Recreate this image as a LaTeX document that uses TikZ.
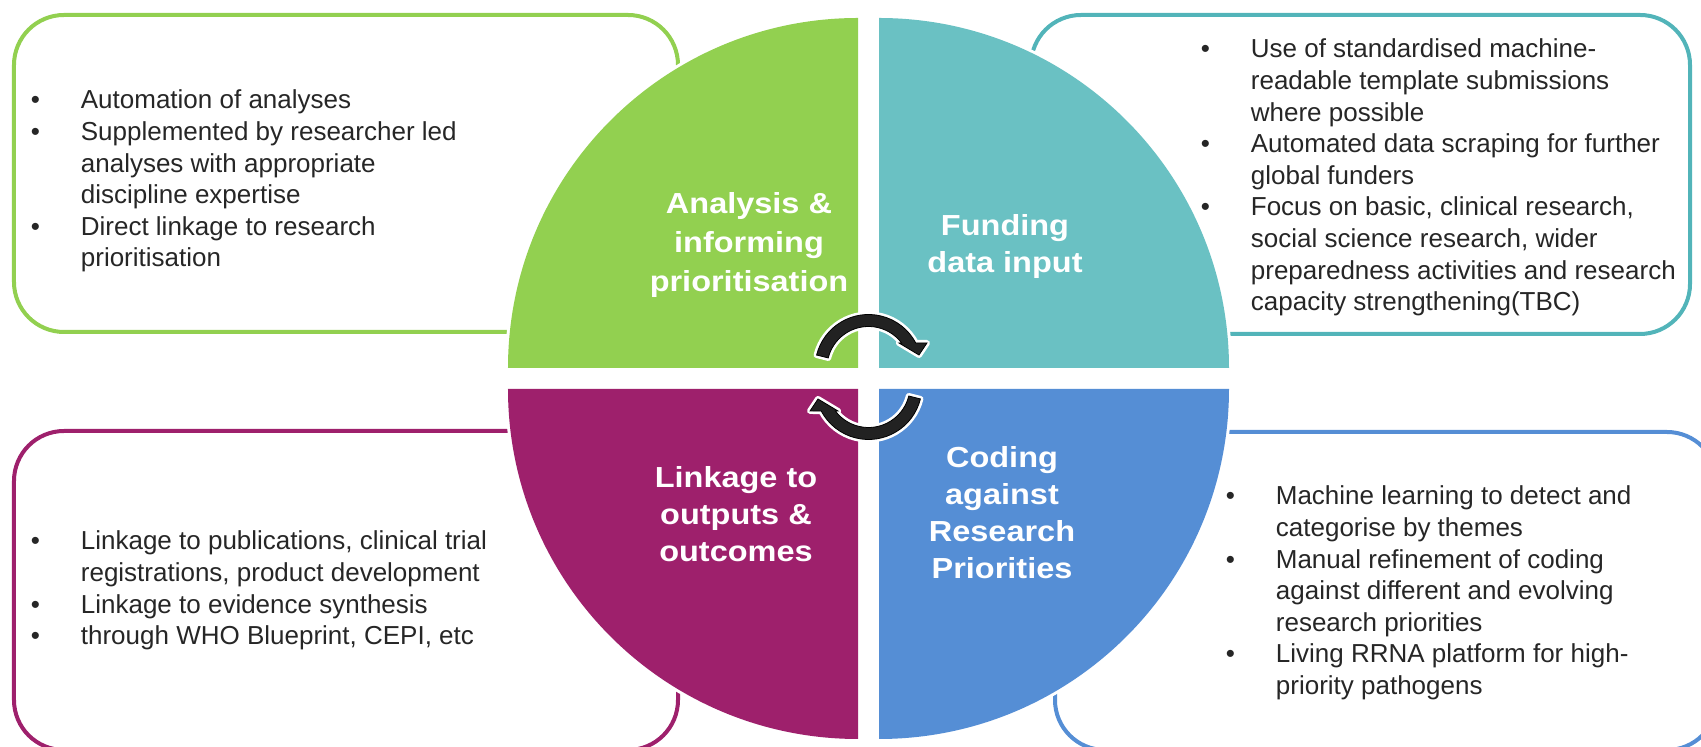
\documentclass[tikz,border=0pt]{standalone}
\usepackage{fontspec}
\setmainfont{Liberation Sans}
\newfontfamily\widesans{Liberation Sans}[FakeStretch=1.12]
\definecolor{qgreen}{RGB}{146,208,80}
\definecolor{qteal}{RGB}{106,193,195}
\definecolor{qtealline}{RGB}{82,180,185}
\definecolor{qpurple}{RGB}{158,32,108}
\definecolor{qblue}{RGB}{85,142,213}
\definecolor{txtgray}{RGB}{38,38,38}
\definecolor{arrowblack}{RGB}{34,34,34}
\begin{document}
\begin{tikzpicture}[x=0.5pt,y=0.5pt,
	boxframe/.style={line width=2pt, rounded corners=25pt},
	quarter/.style={preaction={draw=white, line width=3pt}},
	quartertitle/.style={text=white, align=center, inner sep=0pt,
		font=\widesans\bfseries\fontsize{14.5}{18.5}\selectfont},
	notes/.style={text=txtgray, inner sep=0pt, anchor=base west,
		font=\fontsize{13}{15.8}\selectfont},
	cyclearrow/.style={fill=arrowblack,
		preaction={draw=white, line width=3pt, line join=round}}]
		\useasboundingbox (-868.5,-368.5) rectangle (832.5,378.5);
		% boxes
		\draw[boxframe, draw=qgreen] (-854.5,46.5) rectangle (-190.5,363.5);
		\draw[boxframe, draw=qtealline] (162.5,44.5) rectangle (821.5,363.5);
		\draw[boxframe, draw=qpurple] (-854.5,-371.5) rectangle (-190.5,-52.5);
		\draw[boxframe, draw=qblue] (186.5,-371.5) rectangle (848.5,-53.5);
		
		% quarters
		\fill[quarter, fill=qgreen] (-10.5,10.5) -- ++(180:350) arc[start angle=180, end angle=90, radius=350] -- cycle;
		\fill[quarter, fill=qteal] (10.5,10.5) -- ++(90:350) arc[start angle=90, end angle=0, radius=350] -- cycle;
		\fill[quarter, fill=qpurple] (-10.5,-10.5) -- ++(270:350) arc[start angle=270, end angle=180, radius=350] -- cycle;
		\fill[quarter, fill=qblue] (10.5,-10.5) -- ++(0:350) arc[start angle=360, end angle=270, radius=350] -- cycle;
		
		% titles
		\node[quartertitle, font=\widesans\bfseries\fontsize{14.5}{19.5}\selectfont] (analysis) at (-119.5,133.5) {Analysis \&\\informing\\prioritisation};
		\node[quartertitle] (funding) at (136.5,132) {Funding\\data input};
		\node[quartertitle] (linkage) at (-132.5,-135.5) {Linkage to\\outputs \&\\outcomes};
		\node[quartertitle] (coding) at (133.5,-134.5) {Coding\\against\\Research\\Priorities};
		
		% arrows
		\foreach \ang in {0,180}
		\filldraw[cyclearrow, rotate around={\ang:(0,1.5)}, shift={(0,10.5)}]
			(166:53.5) arc[start angle=166, end angle=27.9, radius=53.5]
			-- (58.5,25) -- (50.5,13) -- (30.5,25)
			-- (37:41.5) arc[start angle=37, end angle=166, radius=41.5] -- cycle;
		
		% bullet texts
		\node[notes] (analysisnotes) at (-838,269.5) {\begin{tabular}[t]{@{}p{25pt}@{}l@{}}
			\textbullet & Automation of analyses\\
			\textbullet & Supplemented by researcher led\\
			& analyses with appropriate\\
			& discipline expertise\\
			\textbullet & Direct linkage to research\\
			& prioritisation
		\end{tabular}};
		\node[notes] (fundingnotes) at (332,320.5) {\begin{tabular}[t]{@{}p{25pt}@{}l@{}}
			\textbullet & Use of standardised machine-\\
			& readable template submissions\\
			& where possible\\
			\textbullet & Automated data scraping for further\\
			& global funders\\
			\textbullet & Focus on basic, clinical research,\\
			& social science research, wider\\
			& preparedness activities and research\\
			& capacity strengthening(TBC)
		\end{tabular}};
		\node[notes] (linkagenotes) at (-838,-171.5) {\begin{tabular}[t]{@{}p{25pt}@{}l@{}}
			\textbullet & Linkage to publications, clinical trial\\
			& registrations, product development\\
			\textbullet & Linkage to evidence synthesis\\
			\textbullet & through WHO Blueprint, CEPI, etc
		\end{tabular}};
		\node[notes] (codingnotes) at (357,-126.5) {\begin{tabular}[t]{@{}p{25pt}@{}l@{}}
			\textbullet & Machine learning to detect and\\
			& categorise by themes\\
			\textbullet & Manual refinement of coding\\
			& against different and evolving\\
			& research priorities\\
			\textbullet & Living RRNA platform for high-\\
			& priority pathogens
		\end{tabular}};
		\end{tikzpicture}
\end{document}
